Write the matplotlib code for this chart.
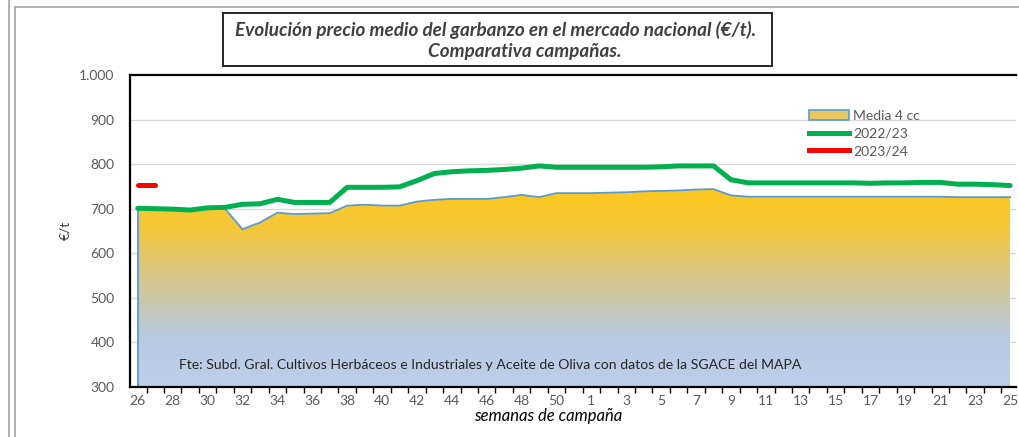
import numpy as np
import matplotlib.pyplot as plt
from matplotlib.colors import LinearSegmentedColormap
from matplotlib.patches import Patch, Rectangle
from matplotlib.lines import Line2D
from matplotlib.ticker import FuncFormatter

plt.rcParams['font.family'] = ['Lato', 'DejaVu Sans']

# semanas de campaña (26..51, 1..25)
semanas = list(range(26, 52)) + list(range(1, 26))

media_4cc = [699, 698, 698, 696, 699, 700, 654, 669, 691, 688, 689, 690, 707, 709, 707, 707,
             716, 720, 722, 722, 722, 726, 731, 726, 735, 735, 735, 736, 737, 739, 740, 741, 743, 744,
             730, 727, 727, 727, 727, 727, 727, 727, 727, 727, 727, 727, 727, 726, 726, 726, 726]
c2022_23 = [701, 700, 699, 697, 702, 703, 710, 711, 721, 714, 714, 714, 748, 748, 748, 749,
            763, 779, 783, 785, 786, 788, 791, 796, 793, 793, 793, 793, 793, 793, 794, 796, 796, 796,
            765, 758, 758, 758, 758, 758, 758, 758, 757, 758, 758, 759, 759, 755, 755, 754, 752]
c2023_24 = [753, 753]

W, H = 1020, 437
fig = plt.figure(figsize=(W / 100, H / 100), dpi=100)
ax = fig.add_axes([130 / W, 1 - 387 / H, (1016 - 130) / W, (387 - 75) / H])

x = np.arange(len(semanas))
ax.set_xlim(-0.447, len(semanas) - 1 + 0.34)
ax.set_ylim(300, 1000)

# gridlines
for v in range(400, 1000, 100):
    ax.axhline(v, color='#D9D9D9', lw=1, zorder=0)

# gradient area
cmap = LinearSegmentedColormap.from_list('g', [
    (0.0, '#BCCFEA'), (0.25, '#B8CAE2'), (0.45, '#CCC8A6'),
    (0.62, '#DEC676'), (0.8, '#F4C73A'), (1.0, '#FEC81E')])
grad = np.linspace(0, 1, 256).reshape(-1, 1)
poly = ax.fill_between(x, 300, media_4cc, color='none', lw=0, zorder=1)
im = ax.imshow(grad, cmap=cmap, origin='lower', aspect='auto',
               extent=[-0.5, len(semanas) - 0.5, 300, max(media_4cc)], zorder=1)
im.set_clip_path(poly.get_paths()[0], transform=ax.transData)
ax.set_xlim(-0.447, len(semanas) - 1 + 0.34)
ax.plot(x, media_4cc, color='#5B9BD5', lw=1.3, zorder=2)
ax.plot([0, 0], [300, media_4cc[0]], color='#5B9BD5', lw=1.3, zorder=2)

ax.plot(x, c2022_23, color='#00B050', lw=3.6, zorder=3, solid_capstyle='round')
ax.plot(x[:len(c2023_24)], c2023_24, color='#FF0000', lw=3.6, zorder=3, solid_capstyle='round')

# axes styling
for s in ['left', 'bottom', 'top']:
    ax.spines[s].set_color('black')
    ax.spines[s].set_linewidth(1.6)
ax.spines['right'].set_visible(False)

ax.set_yticks(range(300, 1001, 100))
ax.yaxis.set_major_formatter(FuncFormatter(lambda v, p: f'{int(v):,}'.replace(',', '.')))
ax.tick_params(axis='y', length=0, pad=11, labelsize=10, labelcolor='#595959')

ax.set_xticks(np.arange(0.5, len(semanas) - 1, 1), minor=True)
ax.set_xticks(x[::2])
ax.set_xticklabels([str(s) for s in semanas[::2]])
ax.tick_params(axis='x', which='major', length=0, labelsize=10, labelcolor='#595959', pad=6)
ax.tick_params(axis='x', which='minor', length=4, width=1, color='black', direction='out')

fig.text(548 / W, 1 - 416 / H, 'semanas de campaña', ha='center', va='center',
         fontsize=12, style='italic', color='black')
fig.text(65 / W, 1 - 230 / H, '€/t', ha='center', va='center', rotation=90,
         fontsize=10, color='#404040')

fig.text(490 / W, 1 - 365 / H,
         'Fte: Subd. Gral. Cultivos Herbáceos e Industriales y Aceite de Oliva con datos de la SGACE del MAPA',
         ha='center', va='center', fontsize=10.1, color='#262626')

# legend
handles = [Patch(facecolor='#E9C760', edgecolor='#5B9BD5', lw=1.2),
           Line2D([], [], color='#00B050', lw=3.6),
           Line2D([], [], color='#FF0000', lw=3.6)]
leg = fig.legend(handles, ['Media 4 cc', '2022/23', '2023/24'],
                 loc='upper left', bbox_to_anchor=(803 / W, 1 - 104 / H), frameon=False,
                 fontsize=10, labelcolor='#595959', handlelength=2.9, handletextpad=0.3,
                 labelspacing=0.42, borderaxespad=0)

# title box
fig.patches.append(Rectangle((223 / W, 1 - 66 / H), (772 - 223) / W, (66 - 13) / H,
                             transform=fig.transFigure, facecolor='white',
                             edgecolor='#262626', lw=1.4))
fig.text(496 / W, 1 - 30 / H, 'Evolución precio medio del garbanzo en el mercado nacional (€/t).',
         ha='center', va='center', fontsize=13.6, weight='bold', style='italic', color='#404040')
fig.text(525 / W, 1 - 52 / H, 'Comparativa campañas.',
         ha='center', va='center', fontsize=13.6, weight='bold', style='italic', color='#404040')

# outer borders
fig.add_artist(Line2D([9 / W, 9 / W], [0, 1], color='#A6A6A6', lw=1.2, transform=fig.transFigure))
fig.add_artist(Line2D([15 / W, 15 / W], [0, 1 - 7 / H], color='#A6A6A6', lw=1.2, transform=fig.transFigure))
fig.add_artist(Line2D([15 / W, 1], [1 - 7 / H, 1 - 7 / H], color='#A6A6A6', lw=1.2, transform=fig.transFigure))

fig.savefig('out.png', dpi=100)
